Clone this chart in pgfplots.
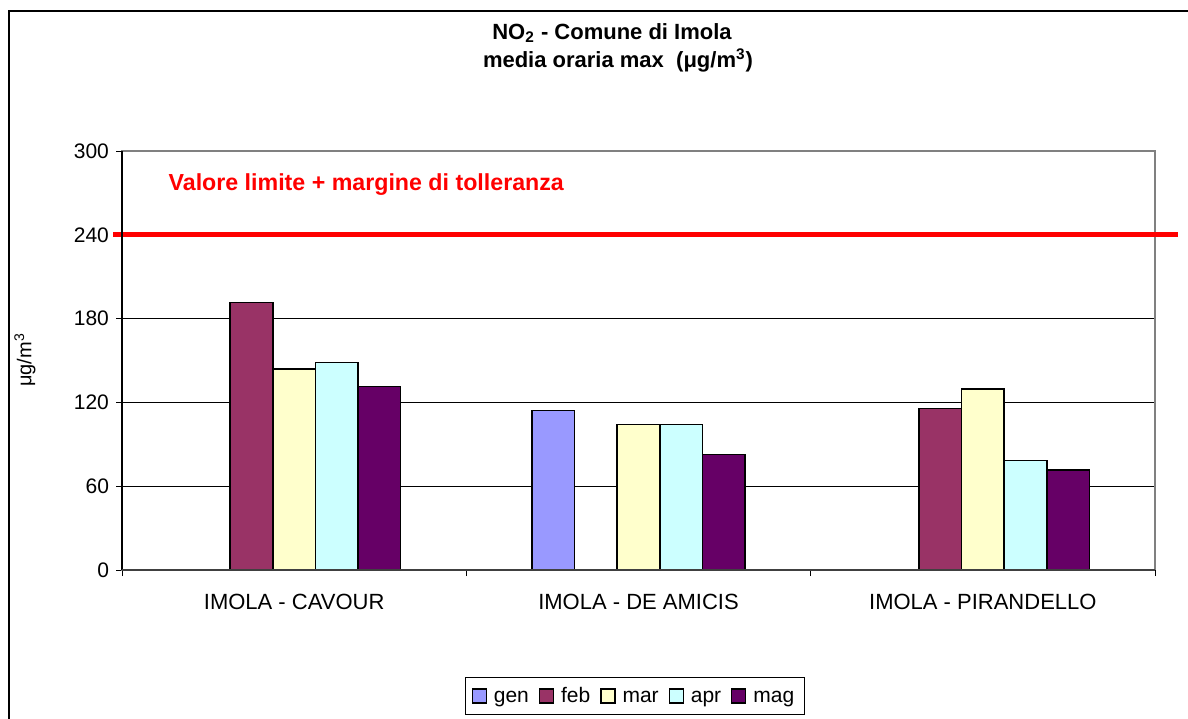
\documentclass[border=0pt]{standalone}
\usepackage{fontspec}
\setmainfont{Liberation Sans}
\usepackage{pgfplots}
\pgfplotsset{compat=1.18}

\definecolor{cgen}{HTML}{9999FF}
\definecolor{cfeb}{HTML}{993366}
\definecolor{cmar}{HTML}{FFFFCC}
\definecolor{capr}{HTML}{CCFFFF}
\definecolor{cmag}{HTML}{660066}
\definecolor{limred}{HTML}{FF0000}

\begin{document}
\begin{tikzpicture}
  \useasboundingbox (0,0) rectangle (594pt,359pt);
  \clip (0,0) rectangle (594pt,359pt);
  % outer chart frame (right and bottom edges fall outside the picture)
  \draw[black, line width=0.6pt] (4.5pt,-5pt) -- (4.5pt,353.5pt) -- (610pt,353.5pt);

  % title
  \node[font=\bfseries\fontsize{11}{13}\selectfont] at (306pt,342.5pt) {NO\textsubscript{2} - Comune di Imola};
  \node[font=\bfseries\fontsize{11}{13}\selectfont] at (309pt,329pt) {media oraria max\ \ (μg/m\textsuperscript{3})};

  % y label
  \node[rotate=90, font=\fontsize{10}{12}\selectfont] at (12.5pt,179pt) {μg/m\textsuperscript{3}};

  \begin{axis}[
    at={(61pt,74pt)}, anchor=south west,
    scale only axis, width=516.5pt, height=209.5pt,
    ybar=0pt, bar width=21.3pt,
    xmin=-0.5, xmax=2.5, ymin=0, ymax=300,
    xtick={0,1,2},
    xticklabels={IMOLA - CAVOUR, IMOLA - DE AMICIS, IMOLA - PIRANDELLO},
    x tick style={draw=none},
    extra x ticks={-0.5,0.5,1.5,2.5},
    extra x tick labels={},
    extra x tick style={grid=none, x tick style={draw=black, line width=0.5pt}},
    xticklabel style={yshift=-5.5pt, font=\fontsize{11}{13}\selectfont},
    ytick={0,60,120,180,240,300},
    ytick pos=left, xtick pos=bottom,
    tick align=outside, major tick length=3pt,
    y tick style={black, line width=0.5pt},
    ymajorgrids=true,
    grid style={black, line width=0.5pt},
    axis line style={gray, line width=0.8pt},
    tick label style={font=\fontsize{10.5}{12}\selectfont},
    /pgf/number format/assume math mode=true,
    clip=false,
    legend columns=5,
    legend style={at={(0.4966,-0.3007)}, anchor=center, draw=black,
      line width=0.5pt, font=\fontsize{10.5}{12}\selectfont,
      inner xsep=3pt, inner ysep=2.5pt,
      /tikz/every odd column/.append style={column sep=1.5pt},
      /tikz/every even column/.append style={column sep=3pt}},
    legend image code/.code={
      \draw[#1, draw=black, line width=0.6pt] (0pt,-3.5pt) rectangle (7pt,3.5pt);},
  ]
    \addplot[fill=cgen, draw=black, line width=0.8pt]
      coordinates {(1,114.1)};
    \addlegendentry{\strut gen}
    \addplot[fill=cfeb, draw=black, line width=0.8pt]
      coordinates {(0,191.4)(2,115.5)};
    \addlegendentry{\strut feb}
    \addplot[fill=cmar, draw=black, line width=0.8pt]
      coordinates {(0,144.1)(1,104.3)(2,129.6)};
    \addlegendentry{\strut mar}
    \addplot[fill=capr, draw=black, line width=0.8pt]
      coordinates {(0,148.6)(1,104.3)(2,78.5)};
    \addlegendentry{\strut apr}
    \addplot[fill=cmag, draw=black, line width=0.8pt]
      coordinates {(0,131.3)(1,82.6)(2,71.6)};
    \addlegendentry{\strut mag}

    % limit value line
    \addplot[sharp plot, limred, line width=2.5pt, forget plot]
      coordinates {(-0.526,240)(2.567,240)};
    \node[anchor=west, text=limred, font=\bfseries\fontsize{11.6}{13}\selectfont]
      at (axis cs:-0.385,276.3) {Valore limite + margine di tolleranza};

    \draw[black, line width=0.8pt] (rel axis cs:0,0) -- (rel axis cs:0,1);
    \draw[black!75, line width=0.8pt] (rel axis cs:0,0) -- (rel axis cs:1,0);
  \end{axis}
\end{tikzpicture}
\end{document}
